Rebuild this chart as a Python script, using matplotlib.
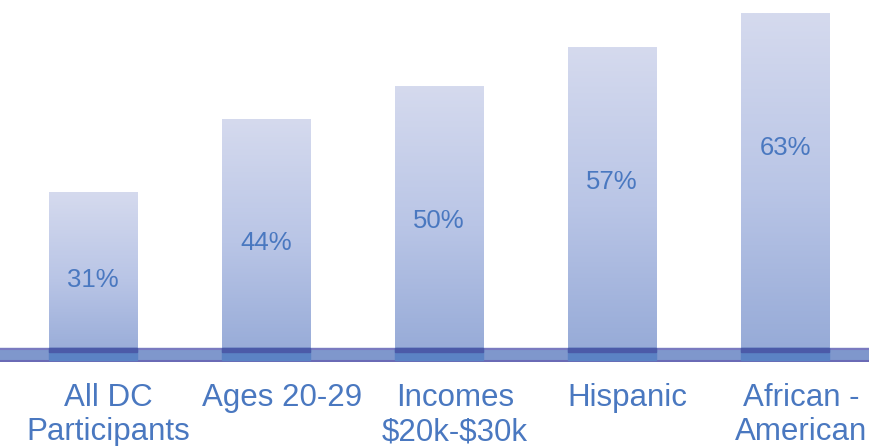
import numpy as np
import matplotlib.pyplot as plt
from matplotlib.patches import Rectangle
from matplotlib.colors import LinearSegmentedColormap

plt.rcParams['font.family'] = ['Liberation Sans', 'DejaVu Sans']

categories = ["All DC\nParticipants", "Ages 20-29", "Incomes\n\\$20k-\\$30k",
              "Hispanic", "African -\nAmerican"]
values = [31, 44, 50, 57, 63]
labels = ["31%", "44%", "50%", "57%", "63%"]

text_col = "#4a78c0"
grad = LinearSegmentedColormap.from_list("bar", ["#93a8d6", "#b9c5e6", "#d5daee"])

fig = plt.figure(figsize=(8.7, 4.46), dpi=100)
ax = fig.add_axes([0, (446 - 362) / 446, 1, 362 / 446])

x = np.arange(len(values))
w = 0.51
ax.set_xlim(-0.538, 4.49)
ax.set_ylim(0.86, 65.38)

# 3d-ish floor the bars stand in
ftop, fbot = 3.35, 0.86
ax.add_patch(Rectangle((-1, fbot), 7, ftop - fbot, color="#7f97cc", zorder=4))
ax.axhline(ftop - 0.2, color="#7a7ac0", lw=1.5, zorder=5)
ax.axhline(fbot + 0.25, color="#6a6ab5", lw=1.5, zorder=5)

g = np.linspace(0, 1, 256).reshape(-1, 1)
for xi, v, lab in zip(x, values, labels):
    ax.imshow(g, cmap=grad, aspect="auto", origin="lower",
              extent=(xi - w / 2, xi + w / 2, 0, v), zorder=3)
    ax.add_patch(Rectangle((xi - w / 2, fbot + 0.35), w, ftop - fbot - 0.35,
                           color="#5b82c4", zorder=6))
    ax.add_patch(Rectangle((xi - w / 2, ftop - 0.7), w, 0.7, color="#4b5aa8", zorder=7))
    ax.text(xi, max(v - 24, v * 0.5), lab, ha="center", va="center",
            fontsize=18.5, color=text_col, zorder=8)

ax.set_xticks(x + 0.09)
ax.set_xticklabels(categories, fontsize=22.5, color=text_col, linespacing=1.2)
ax.tick_params(axis="x", length=0, pad=15)
ax.set_yticks([])
for s in ax.spines.values():
    s.set_visible(False)

fig.savefig("out.png", dpi=100)
